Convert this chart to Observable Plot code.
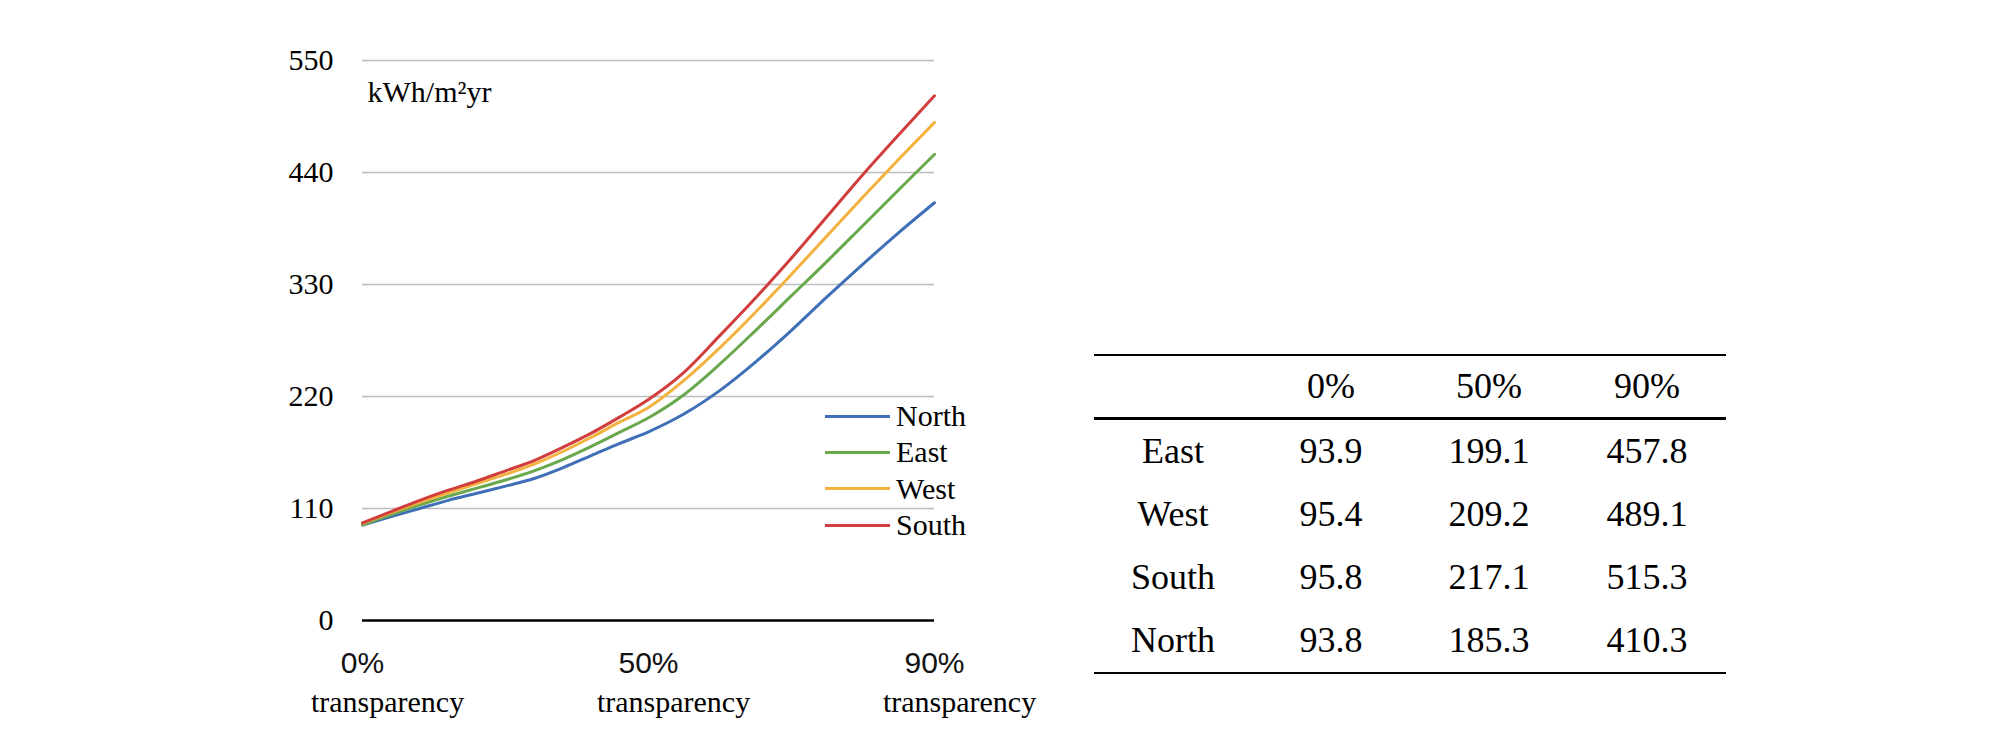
<!DOCTYPE html>
<html>
<head>
<meta charset="utf-8">
<script src="https://cdn.jsdelivr.net/npm/d3@7"></script>
<script src="https://cdn.jsdelivr.net/npm/@observablehq/plot@0.6"></script>
<style>
  html, body { margin: 0; padding: 0; background: #fff; }
  #wrap { position: relative; width: 2008px; height: 752px; overflow: hidden; background: #fff; }
  #chart { position: absolute; left: 0; top: 0; }
  #legend { position: absolute; left: 825px; top: 398px; font-family: "Liberation Serif", "Times New Roman", serif; font-size: 30px; color: #000; }
  .lg-row { display: flex; align-items: center; height: 36.3px; }
  .lg-line { width: 65px; height: 3px; margin-right: 6px; }
  #tbl { position: absolute; left: 1094px; top: 354px; width: 632px; border-collapse: collapse;
         font-family: "Liberation Serif", "Times New Roman", serif; font-size: 36px; color: #000; }
  #tbl td, #tbl th { text-align: center; font-weight: normal; padding: 0; width: 158px; }
  #tbl thead tr { height: 63px; }
  #tbl tbody tr { height: 63.7px; }
  #tbl thead { border-top: 2.5px solid #000; border-bottom: 3.5px solid #000; }
  #tbl tbody { border-bottom: 2.5px solid #000; }
</style>
</head>
<body>
<div id="wrap">
  <div id="chart"></div>
  <div id="legend"></div>
  <table id="tbl"></table>
</div>
<script>
// ---- data ----
const transparency = [0, 5, 10, 15, 20, 25, 30, 35, 40, 45, 50, 55, 60, 65, 70, 75, 80, 85, 90];
const north = [93.8, 102, 110, 118, 125, 132, 139.5, 150, 162, 174, 185.3, 203, 226, 254, 285, 318, 350, 381, 410.3];
const east  = [93.9, 104, 113.5, 122, 130, 138, 147, 158, 171, 185, 199.1, 222, 252, 285, 319, 353, 388, 423, 457.8];
const west  = [95.4, 106, 116, 125.5, 134.5, 143.5, 153.5, 166, 180, 195, 209.2, 236, 268, 303, 340, 378, 416, 453, 489.1];
const south = [95.8, 107, 118, 128, 137, 147, 157, 170, 184, 200, 217.1, 244, 280, 317, 356, 397, 438, 477, 515.3];

const seriesNames = ["North", "East", "West", "South"];
const seriesColors = ["#3F6FB6", "#69A84C", "#F3B23E", "#D23D3D"];
const yTicks = [0, 110, 220, 330, 440, 550];
const xTicks = [0, 50, 90];
const xTickLabels = ["0%", "50%", "90%"];
const xSubLabel = "transparency";
const unitLabel = "kWh/m²yr";

const tableRows = ["East", "West", "South", "North"];
const tableCols = ["0%", "50%", "90%"];
const table0 = [93.9, 95.4, 95.8, 93.8];
const table50 = [199.1, 209.2, 217.1, 185.3];
const table90 = [457.8, 489.1, 515.3, 410.3];

// The source chart places 0%, 50% and 90% evenly: each half of the axis is its own linear segment.
const xPos = (t) => t <= 50 ? t / 50 : 1 + (t - 50) / 40;

// ---- build long data ----
const seriesValues = {North: north, East: east, West: west, South: south};
const rows = [];
for (const name of seriesNames) {
  seriesValues[name].forEach((v, i) => rows.push({t: transparency[i], v, s: name}));
}

const W = 1060, H = 752;
const left = 362, right = 934;
const serif = "Liberation Serif, Times New Roman, serif";
const sans = "Liberation Sans, Arial, sans-serif";
const tickPos = xTicks.map(xPos);

const chart = Plot.plot({
  width: W, height: H,
  marginLeft: left, marginRight: W - right, marginTop: 60, marginBottom: 132,
  style: {background: "white", overflow: "visible"},
  x: {domain: [0, 2]},
  y: {domain: [0, 550]},
  color: {domain: seriesNames, range: seriesColors},
  marks: [
    Plot.gridY(yTicks.filter(d => d > 0), {stroke: "#BDBDBD", strokeOpacity: 1, strokeWidth: 1.5}),
    Plot.ruleY([0], {stroke: "#000", strokeWidth: 2.5}),
    Plot.axisY(yTicks, {tickSize: 0, tickPadding: 29, fontSize: 30, fontFamily: serif, fill: "#000", label: null}),
    Plot.axisX(tickPos, {tickSize: 0, tickPadding: 31, fontSize: 30, fontFamily: sans, fill: "#111",
      tickFormat: (d) => xTickLabels[tickPos.indexOf(d)], label: null}),
    Plot.axisX(tickPos, {tickSize: 0, tickPadding: 70, dx: 25, fontSize: 30, fontFamily: serif, fill: "#000",
      tickFormat: () => xSubLabel, label: null}),
    Plot.text([unitLabel], {frameAnchor: "top-left", dx: 5, dy: 20, lineAnchor: "top", textAnchor: "start",
      fontSize: 30, fontFamily: serif, fill: "#000"}),
    Plot.line(rows, {x: (d) => xPos(d.t), y: "v", z: "s", stroke: "s", strokeWidth: 3, curve: "monotone-x"})
  ]
});
document.getElementById("chart").appendChild(chart);

// ---- legend ----
const lg = document.getElementById("legend");
seriesNames.forEach((n, i) => {
  const r = document.createElement("div");
  r.className = "lg-row";
  const l = document.createElement("div");
  l.className = "lg-line";
  l.style.background = seriesColors[i];
  const t = document.createElement("span");
  t.textContent = n;
  r.appendChild(l); r.appendChild(t);
  lg.appendChild(r);
});

// ---- table ----
const tbl = document.getElementById("tbl");
const thead = document.createElement("thead");
const hr = document.createElement("tr");
["", ...tableCols].forEach(c => { const th = document.createElement("th"); th.textContent = c; hr.appendChild(th); });
thead.appendChild(hr);
tbl.appendChild(thead);
const tbody = document.createElement("tbody");
tableRows.forEach((r, i) => {
  const tr = document.createElement("tr");
  [r, table0[i].toFixed(1), table50[i].toFixed(1), table90[i].toFixed(1)].forEach(c => {
    const td = document.createElement("td"); td.textContent = c; tr.appendChild(td);
  });
  tbody.appendChild(tr);
});
tbl.appendChild(tbody);
</script>
</body>
</html>
